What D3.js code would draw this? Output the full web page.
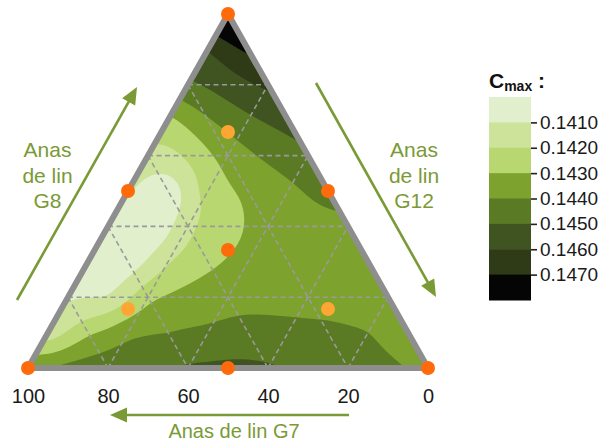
<!DOCTYPE html>
<html><head><meta charset="utf-8">
<script src="https://cdn.jsdelivr.net/npm/d3@7"></script>
<style>body{margin:0;background:#fff}svg{display:block}</style>
</head><body>
<svg id="c" width="606" height="446"></svg>
<script>
// ---------- data ----------
const thresholds = [0.1410, 0.1420, 0.1430, 0.1440, 0.1450, 0.1460, 0.1470];
const legendRange = [0.1400, 0.1480];
const bandColors = ["#e2efcc", "#cde39a", "#b9d770", "#7da22d", "#5a7a24", "#3f5420", "#2f3a17", "#050505"];
const axisTicks = [100, 80, 60, 40, 20, 0];
const gridStep = 0.1;
// Cmax on a mixture grid: one row per G8 fraction (0 .. 1),
// inside a row G12 fraction goes 0, 0.1, ... (G7 = rest)
const gridG8 = [0, 0.1, 0.2, 0.3, 0.4, 0.5, 0.6, 0.7, 0.8, 0.9, 1.0];
const gridValues = [
  [0.1439, 0.1443, 0.1446, 0.1448, 0.1451, 0.1452, 0.1451, 0.1448, 0.1445, 0.1442, 0.1438],
  [0.1415, 0.1428, 0.1437, 0.1440, 0.1442, 0.1444, 0.1443, 0.1442, 0.1440, 0.1435],
  [0.1409, 0.1411, 0.1427, 0.1433, 0.1436, 0.1437, 0.1437, 0.1436, 0.1435],
  [0.1406, 0.1405, 0.1419, 0.1428, 0.1433, 0.1436, 0.1436, 0.1435],
  [0.1406, 0.1402, 0.1417, 0.1427, 0.1434, 0.1437, 0.1438],
  [0.1411, 0.1405, 0.1424, 0.1432, 0.1438, 0.1443],
  [0.1417, 0.1422, 0.1434, 0.1442, 0.1448],
  [0.1428, 0.1439, 0.1448, 0.1454],
  [0.1448, 0.1455, 0.1462],
  [0.1461, 0.1472],
  [0.1485]
];
// design points (G7, G8, G12) and kind
const designPoints = [
  [0, 1, 0, "v"], [1, 0, 0, "v"], [0, 0, 1, "v"],
  [0.5, 0.5, 0, "v"], [0, 0.5, 0.5, "v"], [0.5, 0, 0.5, "v"],
  [1/3, 1/3, 1/3, "v"],
  [1/6, 2/3, 1/6, "a"], [2/3, 1/6, 1/6, "a"], [1/6, 1/6, 2/3, "a"]
];

// ---------- layout ----------
const font = "Liberation Sans, Arial, sans-serif";
const green = "#7a9a36";
const VA = [28, 368], VB = [228, 14], VC = [428, 368]; // G7, G8, G12 corners
function tern(g7, g8, g12) {
  return [g7 * VA[0] + g8 * VB[0] + g12 * VC[0], g7 * VA[1] + g8 * VB[1] + g12 * VC[1]];
}
const svg = d3.select("#c");

// ---------- smooth surface (thin plate spline through the read values) ----------
const pts = [];
gridValues.forEach((row, i) => {
  const g8 = gridG8[i];
  row.forEach((v, k) => {
    const g12 = k * gridStep, g7 = Math.max(0, 1 - g8 - g12);
    const p = tern(g7, g8, g12);
    pts.push({x: p[0] / 400, y: p[1] / 400, v: (v - 0.144) * 1000});
  });
});
const N = pts.length, M = N + 3;
const phi = r2 => r2 > 1e-12 ? 0.5 * r2 * Math.log(r2) : 0;
const mat = [];
for (let i = 0; i < N; i++) {
  const r = [];
  for (let j = 0; j < N; j++) {
    const dx = pts[i].x - pts[j].x, dy = pts[i].y - pts[j].y;
    r.push(phi(dx * dx + dy * dy));
  }
  r.push(1, pts[i].x, pts[i].y, pts[i].v);
  mat.push(r);
}
for (let q = 0; q < 3; q++) {
  const r = [];
  for (let j = 0; j < N; j++) r.push(q === 0 ? 1 : q === 1 ? pts[j].x : pts[j].y);
  r.push(0, 0, 0, 0);
  mat.push(r);
}
for (let c = 0; c < M; c++) {
  let piv = c;
  for (let r = c + 1; r < M; r++) if (Math.abs(mat[r][c]) > Math.abs(mat[piv][c])) piv = r;
  [mat[c], mat[piv]] = [mat[piv], mat[c]];
  for (let r = 0; r < M; r++) {
    if (r === c) continue;
    const f = mat[r][c] / mat[c][c];
    if (f === 0) continue;
    for (let k = c; k <= M; k++) mat[r][k] -= f * mat[c][k];
  }
}
const sol = mat.map((r, i) => r[M] / r[i]);
function surf(x, y) {
  x /= 400; y /= 400;
  let s = sol[N] + sol[N + 1] * x + sol[N + 2] * y;
  for (let j = 0; j < N; j++) {
    const dx = x - pts[j].x, dy = y - pts[j].y;
    s += sol[j] * phi(dx * dx + dy * dy);
  }
  return s / 1000 + 0.144;
}
const step = 2, x0 = 20, y0 = 6;
const n = Math.ceil((436 - x0) / step) + 1, m = Math.ceil((376 - y0) / step) + 1;
const vals = new Float64Array(n * m);
for (let j = 0; j < m; j++) for (let i = 0; i < n; i++) vals[j * n + i] = surf(x0 + i * step, y0 + j * step);
const contours = d3.contours().size([n, m]).thresholds(thresholds)(vals);
const proj = d3.geoIdentity().scale(step).translate([x0 - step / 2, y0 - step / 2]);
const cpath = d3.geoPath(proj);

// ---------- triangle ----------
const triPts = [VA, VB, VC];
svg.append("clipPath").attr("id", "tri").append("polygon").attr("points", triPts.map(p => p.join(",")).join(" "));
const plot = svg.append("g").attr("clip-path", "url(#tri)");
plot.append("polygon").attr("points", triPts.map(p => p.join(",")).join(" ")).attr("fill", bandColors[0]);
plot.selectAll("path.band").data(contours).join("path").attr("class", "band")
  .attr("d", cpath).attr("fill", (d, i) => bandColors[i + 1]);

// dashed grid
const gl = [];
[0.2, 0.4, 0.6, 0.8].forEach(f => {
  gl.push([tern(1 - f, f, 0), tern(0, f, 1 - f)]);
  gl.push([tern(f, 1 - f, 0), tern(f, 0, 1 - f)]);
  gl.push([tern(1 - f, 0, f), tern(0, 1 - f, f)]);
});
plot.selectAll("line.grid").data(gl).join("line").attr("class", "grid")
  .attr("x1", d => d[0][0]).attr("y1", d => d[0][1]).attr("x2", d => d[1][0]).attr("y2", d => d[1][1])
  .attr("stroke", "#9a9a9a").attr("stroke-width", 1.6).attr("stroke-dasharray", "5,3.5");

svg.append("polygon").attr("points", triPts.map(p => p.join(",")).join(" "))
  .attr("fill", "none").attr("stroke", "#8e8e8e").attr("stroke-width", 6).attr("stroke-linejoin", "round");

svg.selectAll("circle.dp").data(designPoints).join("circle").attr("class", "dp")
  .attr("cx", d => tern(d[0], d[1], d[2])[0]).attr("cy", d => tern(d[0], d[1], d[2])[1])
  .attr("r", 7).attr("fill", d => d[3] === "v" ? "#ff6a0a" : "#ffa534");

// ---------- bottom axis ----------
const xs = d3.scaleLinear().domain([100, 0]).range([VA[0], VC[0]]);
const ax = svg.append("g").attr("transform", `translate(0,${VA[1]})`)
  .call(d3.axisBottom(xs).tickValues(axisTicks).tickSize(0).tickPadding(21));
ax.select(".domain").remove();
ax.selectAll("text").attr("font-family", font).attr("font-size", 20).attr("fill", "#1a1a1a");

// ---------- arrows & labels ----------
function arrow(x1, y1, x2, y2) {
  const dx = x2 - x1, dy = y2 - y1, L = Math.hypot(dx, dy), ux = dx / L, uy = dy / L;
  const hl = 17, hw = 7.5;
  const bx = x2 - ux * hl, by = y2 - uy * hl;
  svg.append("line").attr("x1", x1).attr("y1", y1).attr("x2", bx + ux * 2).attr("y2", by + uy * 2)
    .attr("stroke", green).attr("stroke-width", 2.6);
  svg.append("polygon").attr("points",
    [[x2, y2], [bx - uy * hw, by + ux * hw], [bx + uy * hw, by - ux * hw]].map(p => p.join(",")).join(" "))
    .attr("fill", green);
}
arrow(17, 300, 137, 87);
arrow(316, 83, 436, 297);
arrow(349, 415, 110, 415);

function label(lines, x, y0, size) {
  const t = svg.append("text").attr("font-family", font).attr("font-size", size).attr("fill", green).attr("text-anchor", "middle");
  lines.forEach((s, i) => t.append("tspan").attr("x", x).attr("y", y0 + i * 25.5).text(s));
}
label(["Anas", "de lin", "G8"], 47.5, 157, 21);
label(["Anas", "de lin", "G12"], 414, 157, 21);
label(["Anas de lin G7"], 234, 438, 20);

// ---------- legend ----------
const ly = d3.scaleLinear().domain(legendRange).range([97, 300]);
const edges = [legendRange[0], ...thresholds, legendRange[1]];
svg.selectAll("rect.lg").data(bandColors).join("rect").attr("class", "lg")
  .attr("x", 489).attr("width", 42)
  .attr("y", (d, i) => ly(edges[i])).attr("height", (d, i) => ly(edges[i + 1]) - ly(edges[i]) + 0.5)
  .attr("fill", d => d);
const la = svg.append("g").attr("transform", "translate(531,0)")
  .call(d3.axisRight(ly).tickValues(thresholds).tickFormat(d3.format(".4f")).tickSize(6).tickPadding(3));
la.select(".domain").remove();
la.selectAll("line").attr("stroke", "#222").attr("stroke-width", 1.6);
la.selectAll("text").attr("font-family", font).attr("font-size", 19).attr("fill", "#1a1a1a");

const tt = svg.append("text").attr("x", 489).attr("y", 88).attr("font-family", font).attr("font-weight", "bold").attr("font-size", 21).attr("fill", "#111");
tt.append("tspan").text("C");
tt.append("tspan").attr("font-size", 14).attr("dy", 3).text("max");
tt.append("tspan").attr("dy", -3).text(" :");
</script>
</body></html>
